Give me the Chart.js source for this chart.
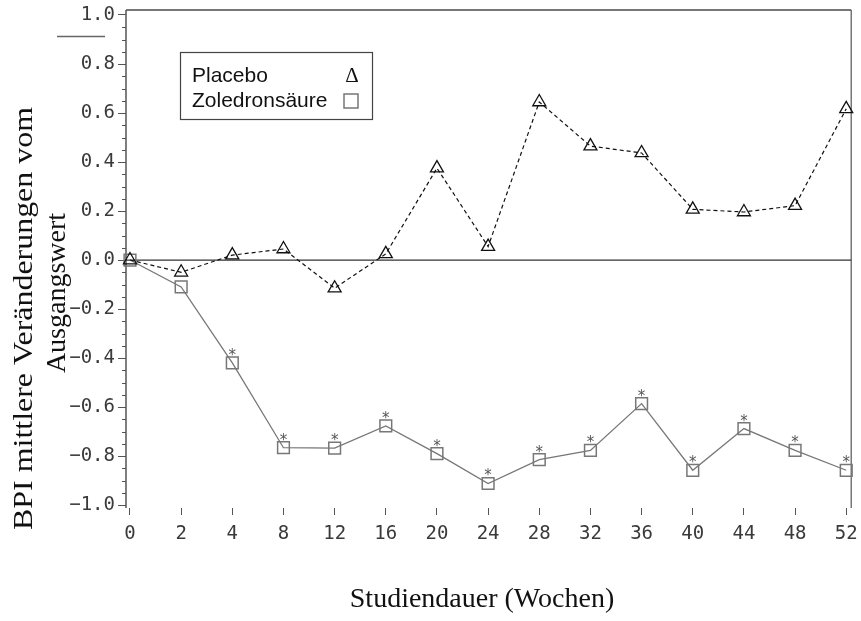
<!DOCTYPE html>
<html>
<head>
<meta charset="utf-8">
<script src="https://cdn.jsdelivr.net/npm/chart.js@4.4.1/dist/chart.umd.min.js"></script>
<style>
  html, body { margin: 0; padding: 0; background: #ffffff; }
  #c { display: block; }
</style>
</head>
<body>
<canvas id="c" width="861" height="621" style="width:861px;height:621px"></canvas>
<script>
// ---- data ----
const weeks = ['0', '2', '4', '8', '12', '16', '20', '24', '28', '32', '36', '40', '44', '48', '52'];
const placebo = [0, -0.05, 0.02, 0.045, -0.115, 0.025, 0.375, 0.055, 0.645, 0.465, 0.437, 0.207, 0.196, 0.222, 0.617];
const zoledron = [0, -0.11, -0.42, -0.766, -0.768, -0.677, -0.79, -0.912, -0.815, -0.777, -0.586, -0.858, -0.688, -0.777, -0.858];
const significant = [false, false, true, true, true, true, true, true, true, true, true, true, true, true, true];
const yTickValues = [-1.0, -0.8, -0.6, -0.4, -0.2, 0.0, 0.2, 0.4, 0.6, 0.8, 1.0];
const yTickLabels = ['\u22121.0', '\u22120.8', '\u22120.6', '\u22120.4', '\u22120.2', '0.0', '0.2', '0.4', '0.6', '0.8', '1.0'];
const seriesNames = ['Placebo', 'Zoledronsäure'];
const yTitleLines = ['BPI mittlere Veränderungen vom', 'Ausgangswert'];
const xTitle = 'Studiendauer (Wochen)';

const tickFont = { family: 'DejaVu Sans Mono', size: 19 };

const decorPlugin = {
  id: 'decor',
  beforeDatasetsDraw(chart) {
    const { ctx, chartArea: a, scales } = chart;
    ctx.save();
    // frame: top, left, right
    ctx.strokeStyle = '#777';
    ctx.lineWidth = 2;
    ctx.beginPath();
    ctx.moveTo(a.left, a.top); ctx.lineTo(a.right, a.top);
    ctx.stroke();
    ctx.strokeStyle = '#555';
    ctx.lineWidth = 1.5;
    ctx.beginPath();
    ctx.moveTo(a.left, a.top); ctx.lineTo(a.left, a.bottom);
    ctx.stroke();
    ctx.lineWidth = 1.2;
    ctx.beginPath();
    ctx.moveTo(a.right, a.top); ctx.lineTo(a.right, a.bottom);
    ctx.stroke();
    // zero reference line
    const y0 = scales.y.getPixelForValue(0);
    ctx.strokeStyle = '#333';
    ctx.lineWidth = 1.2;
    ctx.beginPath();
    ctx.moveTo(a.left, y0); ctx.lineTo(a.right, y0);
    ctx.stroke();
    // minor y ticks
    ctx.strokeStyle = '#555';
    ctx.lineWidth = 1;
    for (let k = 0; k < yTickValues.length - 1; k++) {
      const lo = yTickValues[k], hi = yTickValues[k + 1];
      for (let j = 1; j < 4; j++) {
        const v = lo + (hi - lo) * j / 4;
        const py = Math.round(scales.y.getPixelForValue(v)) + 0.5;
        ctx.beginPath();
        ctx.moveTo(a.left - 4, py); ctx.lineTo(a.left, py);
        ctx.stroke();
      }
    }
    // small stray line top-left
    ctx.strokeStyle = '#666';
    ctx.lineWidth = 1.5;
    ctx.beginPath();
    ctx.moveTo(57, 36.5); ctx.lineTo(105, 36.5);
    ctx.stroke();
    ctx.restore();
  },
  afterDatasetsDraw(chart) {
    const { ctx } = chart;
    ctx.save();
    // significance asterisks
    const meta = chart.getDatasetMeta(1);
    ctx.fillStyle = '#555';
    ctx.font = '15px "DejaVu Sans"';
    ctx.textAlign = 'center';
    ctx.textBaseline = 'alphabetic';
    meta.data.forEach((pt, i) => {
      if (significant[i]) ctx.fillText('*', pt.x, pt.y - 3);
    });
    // legend box
    ctx.strokeStyle = '#444';
    ctx.lineWidth = 1.2;
    ctx.strokeRect(180.5, 52.5, 192, 67);
    ctx.fillStyle = '#111';
    ctx.font = '21px "Liberation Sans"';
    ctx.textAlign = 'left';
    ctx.fillText(seriesNames[0], 192, 82);
    ctx.fillText(seriesNames[1], 192, 107);
    ctx.font = '21px "Liberation Serif"';
    ctx.textAlign = 'center';
    ctx.fillText('\u0394', 352, 82);
    ctx.strokeStyle = '#777';
    ctx.lineWidth = 1.5;
    ctx.strokeRect(344, 94, 14, 14);
    // axis titles
    ctx.fillStyle = '#111';
    ctx.font = '28px "Liberation Serif"';
    ctx.textAlign = 'center';
    ctx.fillText(xTitle, 482, 607);
    // y title line 1 (stretched to the reference length)
    ctx.save();
    ctx.translate(32, 318.5);
    ctx.rotate(-Math.PI / 2);
    const w1 = ctx.measureText(yTitleLines[0]).width;
    ctx.scale(423 / w1, 1);
    ctx.fillText(yTitleLines[0], 0, 0);
    ctx.restore();
    ctx.save();
    ctx.translate(65, 293);
    ctx.rotate(-Math.PI / 2);
    ctx.fillText(yTitleLines[1], 0, 0);
    ctx.restore();
    ctx.restore();
  }
};

new Chart(document.getElementById('c'), {
  type: 'line',
  data: {
    datasets: [
      {
        label: seriesNames[0],
        data: placebo.map((v, i) => ({ x: i, y: v })),
        borderColor: '#111',
        borderWidth: 1.2,
        borderDash: [4, 3],
        pointStyle: 'triangle',
        pointRadius: 7.5,
        pointBorderWidth: 1.3,
        pointBorderColor: '#111',
        pointBackgroundColor: 'rgba(0,0,0,0)',
        tension: 0,
        clip: false
      },
      {
        label: seriesNames[1],
        data: zoledron.map((v, i) => ({ x: i, y: v })),
        borderColor: '#777',
        borderWidth: 1.3,
        pointStyle: 'rect',
        pointRadius: 8.3,
        pointBorderWidth: 1.5,
        pointBorderColor: '#777',
        pointBackgroundColor: 'rgba(0,0,0,0)',
        tension: 0,
        clip: false
      }
    ]
  },
  options: {
    responsive: false,
    devicePixelRatio: 1,
    animation: false,
    layout: { padding: { top: 10, right: 4, left: 0, bottom: 0 } },
    plugins: { legend: { display: false }, tooltip: { enabled: false } },
    scales: {
      x: {
        type: 'linear',
        min: -0.078,
        max: 14.097,
        afterBuildTicks: (s) => { s.ticks = weeks.map((w, i) => ({ value: i })); },
        afterFit: (s) => { s.height = 113; s.paddingLeft = 0; s.paddingRight = 0; },
        ticks: {
          callback: (v, i) => weeks[i],
          font: tickFont,
          color: '#3a3a3a',
          padding: 8,
          maxRotation: 0,
          autoSkip: false
        },
        grid: { drawOnChartArea: false, drawTicks: true, tickLength: 7, color: '#555', lineWidth: 1 },
        border: { display: false }
      },
      y: {
        min: -1.012,
        max: 1.0204,
        afterBuildTicks: (s) => { s.ticks = yTickValues.map((v) => ({ value: v })); },
        afterFit: (s) => { s.width = 126; s.paddingTop = 0; s.paddingBottom = 0; },
        ticks: {
          callback: (v, i) => yTickLabels[i],
          font: tickFont,
          color: '#3a3a3a',
          padding: 3
        },
        grid: { drawOnChartArea: false, drawTicks: true, tickLength: 8, color: '#555', lineWidth: 1 },
        border: { display: false }
      }
    }
  },
  plugins: [decorPlugin]
});
</script>
</body>
</html>
